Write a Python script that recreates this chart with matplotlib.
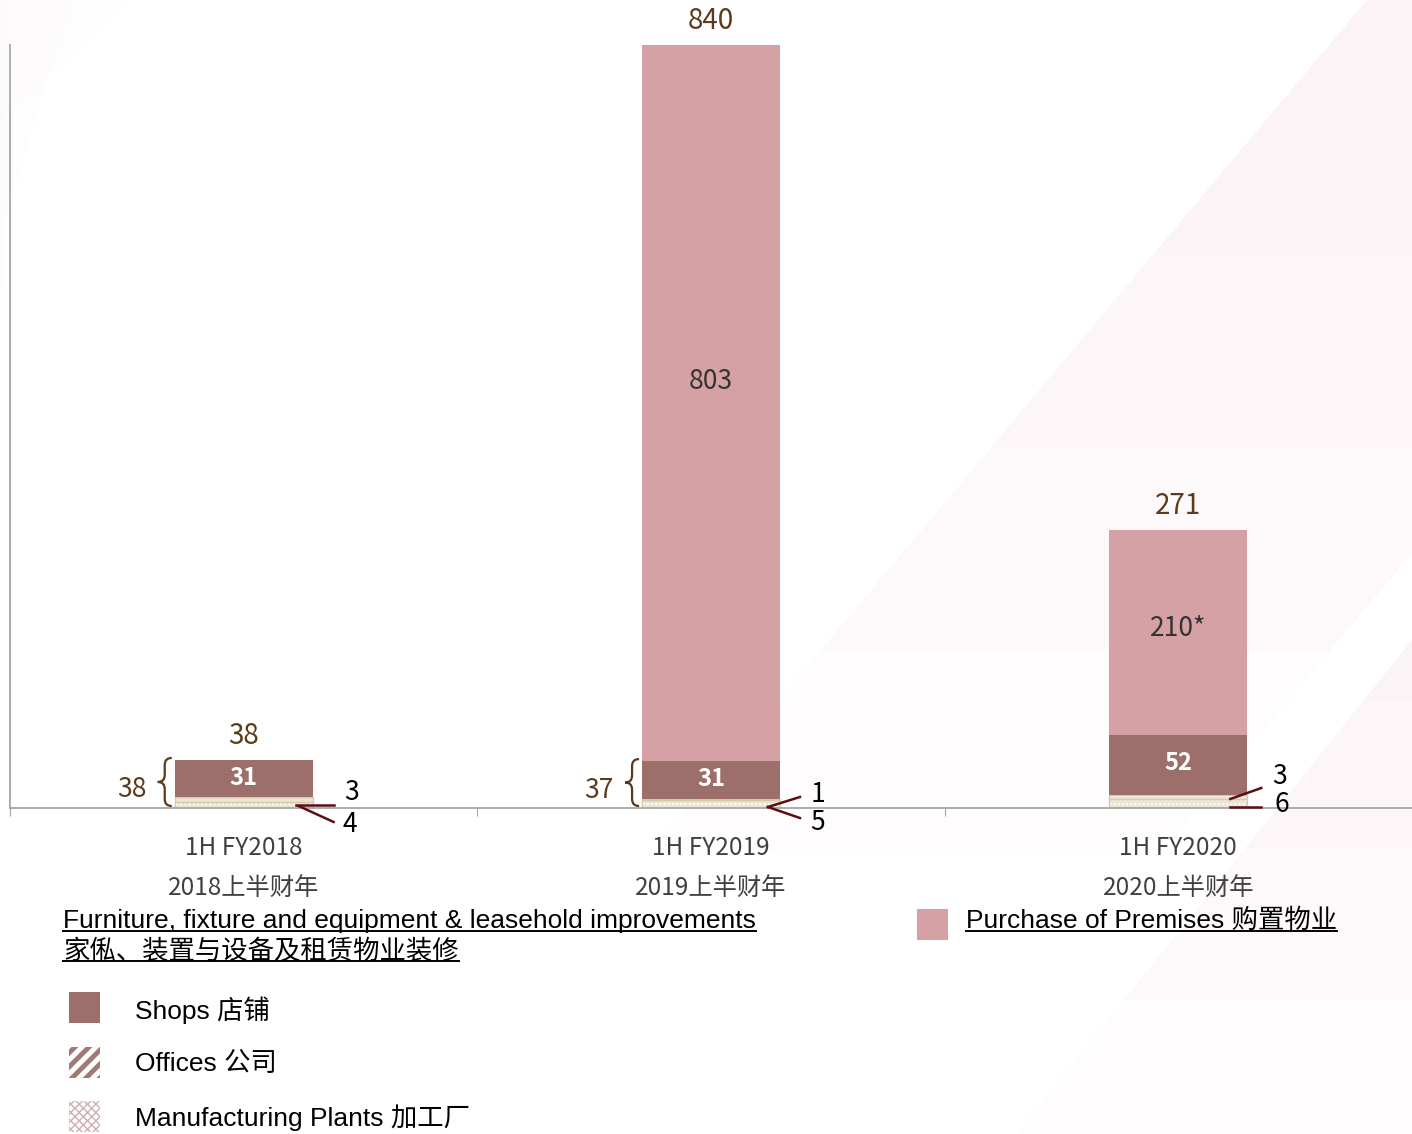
import matplotlib.pyplot as plt
import numpy as np
from matplotlib.patches import Polygon, Rectangle
from matplotlib.lines import Line2D
from matplotlib.path import Path
from matplotlib.patches import PathPatch
from matplotlib.transforms import IdentityTransform

plt.rcParams['font.family'] = ['Noto Sans CJK SC', 'DejaVu Sans']
plt.rcParams['hatch.linewidth'] = 1.0

# data (HK$ million)
periods = ['1H FY2018', '1H FY2019', '1H FY2020']
periods_cn = ['2018上半财年', '2019上半财年', '2020上半财年']
plants = np.array([4, 5, 6])
offices = np.array([3, 1, 3])
shops = np.array([31, 31, 52])
premises = np.array([0, 803, 210])
premises_labels = ['', '803', '210*']
totals = [38, 840, 271]
ffe_totals = [38, 37, None]

# colours
SHOP = '#9c6f6b'
PREM = '#d5a1a5'
BAND = '#ede5d3'
BAND_EDGE = '#d6c9ab'
BROWN = '#5c3b1c'
LEADER = '#5b0f14'
AXIS = '#a6a6a6'

W, H = 1412, 1134
fig = plt.figure(figsize=(W / 100, H / 100), dpi=100)


def fpx(x, y):
    # pixel (y from top) -> figure fraction
    return (x / W, 1 - y / H)


def bg(pts, col, alpha):
    fig.patches.append(Polygon([fpx(*q) for q in pts], closed=True, transform=fig.transFigure,
                               facecolor=col, edgecolor='none', alpha=alpha, zorder=-5))


# faint background streaks, stacked so they fade out
for c in [120, 240, 360, 480]:
    bg([(0, 0), (190 - c * 0.5, 0), (0, c)], '#e890a8', 0.012)
for c in [250, 450, 650, 850]:
    if c <= 553:
        pts = [(1367, 0), (1412, 0), (1412, c), (1367 - 0.84 * c, c)]
    else:
        pts = [(1367, 0), (1412, 0), (1412, 553), (1412 - 0.84 * (c - 553), c), (1367 - 0.84 * c, c)]
    bg(pts, '#e890a8', 0.022)
for c in [700, 850, 1000, 1134]:
    bg([(1412, 640), (1412, c), (1412 - 0.8 * (c - 640), c)], '#e890a8', 0.02)

ax = fig.add_axes([10 / W, (H - 808) / H, (W - 10) / W, (808 - 45) / H])
ax.patch.set_alpha(0)
ax.set_zorder(2)

p = 0.893
ax.set_yscale('function', functions=(lambda v: np.sign(v) * np.abs(v) ** p,
                                      lambda v: np.sign(v) * np.abs(v) ** (1 / p)))
ax.set_ylim(0, 840)
ax.set_xlim(-0.5, 2.5)

x = np.arange(len(periods))
bw = 0.295

ax.bar(x, plants, bw, color=BAND, edgecolor='white', hatch='....', linewidth=0)
ax.bar(x, plants, bw, fill=False, edgecolor=BAND_EDGE, linewidth=1)
ax.bar(x, offices, bw, bottom=plants, color=BAND, edgecolor='white', hatch='--', linewidth=0)
ax.bar(x, offices, bw, bottom=plants, fill=False, edgecolor=BAND_EDGE, linewidth=1)
b2 = plants + offices
ax.bar(x, shops, bw, bottom=b2, color=SHOP, linewidth=0)
b3 = b2 + shops
ax.bar(x, premises, bw, bottom=b3, color=PREM, linewidth=0)

# axes style
for s in ['top', 'right']:
    ax.spines[s].set_visible(False)
ax.spines['left'].set_color(AXIS)
ax.spines['bottom'].set_color(AXIS)
ax.spines['left'].set_linewidth(1.3)
ax.spines['bottom'].set_linewidth(1.3)
ax.set_yticks([])
ax.set_xticks([-0.5, 0.5, 1.5])
ax.set_xticklabels([])
ax.tick_params(axis='x', length=6, color=AXIS, direction='out')

# category labels
for i in x:
    ax.text(i, -0.0524, periods[i], transform=ax.get_xaxis_transform(),
            ha='center', va='center', fontsize=17.5, color='#404040')
    ax.text(i, -0.1048, periods_cn[i], transform=ax.get_xaxis_transform(),
            ha='center', va='center', fontsize=17.5, color='#404040')

# totals above bars
for i, t in zip(x, totals):
    ax.annotate(str(t), (i, t), xytext=(0, 24), textcoords='offset pixels',
                ha='center', va='center', fontsize=20, color=BROWN)

# segment labels
for i in x:
    ax.text(i, b2[i] + shops[i] / 2, str(shops[i]), ha='center', va='center',
            fontsize=17, color='white', fontweight='bold')
    if premises[i]:
        ax.text(i, b3[i] + premises[i] / 2, premises_labels[i], ha='center', va='center',
                fontsize=19, color='#333333')


def to_px(xd, yd):
    return ax.transData.transform((xd, yd))


# braces with furniture totals
for i, v in zip(x, ffe_totals):
    if v is None:
        continue
    x0, yb = to_px(i - bw / 2, 0)
    _, yt = to_px(i, b3[i])
    x0 -= 3
    yb += 2
    yt += 2
    w = 14
    r = 7
    xm = x0 - w / 2
    ym = (yb + yt) / 2
    verts = [(x0, yt), (xm, yt), (xm, yt - r),
             (xm, ym + r),
             (xm, ym), (x0 - w, ym),
             (xm, ym), (xm, ym - r),
             (xm, yb + r),
             (xm, yb), (x0, yb)]
    codes = [Path.MOVETO, Path.CURVE3, Path.CURVE3,
             Path.LINETO,
             Path.CURVE3, Path.CURVE3,
             Path.CURVE3, Path.CURVE3,
             Path.LINETO,
             Path.CURVE3, Path.CURVE3]
    fig.add_artist(PathPatch(Path(verts, codes), transform=IdentityTransform(),
                             fill=False, edgecolor=BROWN, lw=1.6, zorder=5))
    fig.text(x0 - 40, ym - 8, str(v), transform=IdentityTransform(), ha='center', va='center',
             fontsize=19, color=BROWN, zorder=5)

# leader lines for the thin bands: (start, end, label pos) offsets in px from bar right edge / baseline
leaders = [
    [((-17, 3), (21, 3), (39, 16)), ((-14, 2), (21, -14), (37, -17))],
    [((-12, 1), (20, 11), (38, 14)), ((-12, 1), (20, -10), (38, -15))],
    [((-17, 9), (14, 20), (32, 32)), ((-17, 1), (14, 1), (35, 4))],
]
for i in x:
    xr, y0 = to_px(i + bw / 2, 0)
    for (s, e, lp), val in zip(leaders[i], [offices[i], plants[i]]):
        fig.add_artist(Line2D([xr + s[0], xr + e[0]], [y0 + s[1], y0 + e[1]],
                              transform=IdentityTransform(), color=LEADER, lw=1.8, zorder=5))
        fig.text(xr + lp[0], y0 + lp[1], str(val), transform=IdentityTransform(),
                 ha='center', va='center', fontsize=19, color='black', zorder=5)

# legend
LFONT = ['Liberation Sans', 'Noto Sans CJK SC']
LSIZE = 19
underlined = []
t = fig.text(*fpx(63, 921), 'Furniture, fixture and equipment & leasehold improvements',
             family=LFONT, fontsize=LSIZE, va='center', ha='left')
underlined.append(t)
t = fig.text(*fpx(63, 951), '家俬、装置与设备及租赁物业装修',
             family=LFONT, fontsize=LSIZE, va='center', ha='left')
underlined.append(t)
t = fig.text(*fpx(966, 921), 'Purchase of Premises 购置物业',
             family=LFONT, fontsize=LSIZE, va='center', ha='left')
underlined.append(t)

fig.patches.append(Rectangle(fpx(917, 940), 31 / W, 31 / H, transform=fig.transFigure,
                             facecolor=PREM, edgecolor='none'))
fig.patches.append(Rectangle(fpx(69, 1023), 31 / W, 31 / H, transform=fig.transFigure,
                             facecolor=SHOP, edgecolor='none'))
fig.text(*fpx(135, 1010), 'Shops 店铺', family=LFONT, fontsize=LSIZE, va='center', ha='left')

off_box = Rectangle(fpx(69, 1078), 31 / W, 31 / H, transform=fig.transFigure,
                    facecolor='white', edgecolor='none')
fig.patches.append(off_box)
for k in range(-2, 3):
    x_a = 72 + k * 14
    ln = Line2D([x_a / W, (x_a + 31) / W], [1 - 1078 / H, 1 - 1047 / H],
                transform=fig.transFigure, color='#a07a76', lw=3.5)
    ln.set_clip_path(off_box)
    fig.add_artist(ln)
fig.text(*fpx(135, 1064), 'Offices 公司', family=LFONT, fontsize=LSIZE, va='center', ha='left')

fig.patches.append(Rectangle(fpx(69, 1132), 31 / W, 31 / H, transform=fig.transFigure,
                             facecolor='white', edgecolor='#cdb1af', hatch='xxxx', linewidth=0))
fig.text(*fpx(135, 1118), 'Manufacturing Plants 加工厂', family=LFONT, fontsize=LSIZE,
         va='center', ha='left')

# underline legend headers
fig.canvas.draw()
renderer = fig.canvas.get_renderer()
for t in underlined:
    bb = t.get_window_extent(renderer)
    fig.add_artist(Line2D([bb.x0, bb.x1], [bb.y0 + 2, bb.y0 + 2], transform=IdentityTransform(),
                          color='black', lw=1.4))

fig.savefig('out.png', dpi=100, facecolor='white')
